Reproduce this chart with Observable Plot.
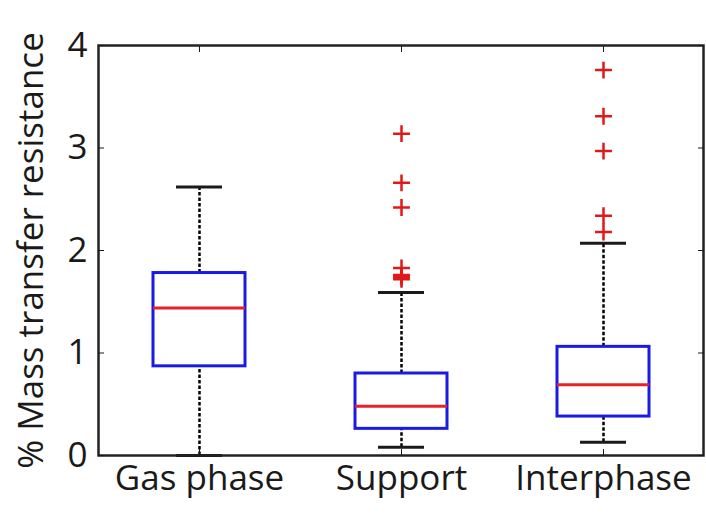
<!DOCTYPE html>
<html>
<head>
<meta charset="utf-8">
<script src="https://cdn.jsdelivr.net/npm/d3@7"></script>
<script src="https://cdn.jsdelivr.net/npm/@observablehq/plot@0.6"></script>
<style>
  html, body { margin: 0; padding: 0; background: #fff; }
  #chart svg { display: block; }
</style>
</head>
<body>
<div id="chart"></div>
<script>
const categories = ["Gas phase", "Support", "Interphase"];
const q1 = [0.87, 0.26, 0.38];
const median = [1.44, 0.48, 0.69];
const q3 = [1.78, 0.80, 1.06];
const whiskerLow = [0.0, 0.08, 0.13];
const whiskerHigh = [2.62, 1.59, 2.07];
const outlierCategory = ["Support", "Support", "Support", "Support", "Support", "Support", "Support",
                         "Interphase", "Interphase", "Interphase", "Interphase", "Interphase"];
const outlierValue = [3.14, 2.66, 2.42, 1.83, 1.76, 1.74, 1.72,
                      3.76, 3.31, 2.97, 2.34, 2.18];
const yTicks = [0, 1, 2, 3, 4];

const boxes = categories.map((c, i) => ({
  cat: c, q1: q1[i], med: median[i], q3: q3[i], lo: whiskerLow[i], hi: whiskerHigh[i]
}));
const outliers = outlierValue.map((v, i) => ({cat: outlierCategory[i], v}));

const chart = Plot.plot({
  width: 706,
  height: 517,
  marginLeft: 98,
  marginRight: 3,
  marginTop: 45,
  marginBottom: 62,
  style: {fontFamily: "'Open Sans', sans-serif", fontSize: "35px", color: "#1a1a1a", background: "white"},
  x: {domain: categories, paddingInner: 0.545, paddingOuter: 0.27},
  y: {domain: [0, 4]},
  marks: [
    Plot.ruleX(boxes, {x: "cat", y1: "lo", y2: "q1", stroke: "black", strokeWidth: 2.5, strokeDasharray: "3.5,2"}),
    Plot.ruleX(boxes, {x: "cat", y1: "q3", y2: "hi", stroke: "black", strokeWidth: 2.5, strokeDasharray: "3.5,2"}),
    Plot.tickY(boxes, {x: "cat", y: "lo", stroke: "#1a1a1a", strokeWidth: 3, insetLeft: 23, insetRight: 23}),
    Plot.tickY(boxes, {x: "cat", y: "hi", stroke: "#1a1a1a", strokeWidth: 3, insetLeft: 23, insetRight: 23}),
    Plot.barY(boxes, {x: "cat", y1: "q1", y2: "q3", fill: "white", stroke: "#1a1ae6", strokeWidth: 3}),
    Plot.tickY(boxes, {x: "cat", y: "med", stroke: "#e8202a", strokeWidth: 3}),
    Plot.dot(outliers, {x: "cat", y: "v", symbol: "plus", stroke: "#e01818", strokeWidth: 2.5, r: 5.5}),
    Plot.frame({stroke: "#222", strokeWidth: 2.5}),
    Plot.axisY({ticks: yTicks, tickSize: -6, tickPadding: 17, label: "% Mass transfer resistance",
                labelAnchor: "center", labelOffset: 80, labelArrow: "none", tickFormat: d => String(d)}),
    Plot.axisY({anchor: "right", ticks: yTicks, tickSize: -6, tickFormat: () => "", label: null}),
    Plot.axisX({anchor: "bottom", tickSize: -6, tickPadding: 16, label: null}),
    Plot.axisX({anchor: "top", tickSize: -6, tickFormat: () => "", label: null})
  ]
});
document.getElementById("chart").appendChild(chart);
</script>
</body>
</html>
